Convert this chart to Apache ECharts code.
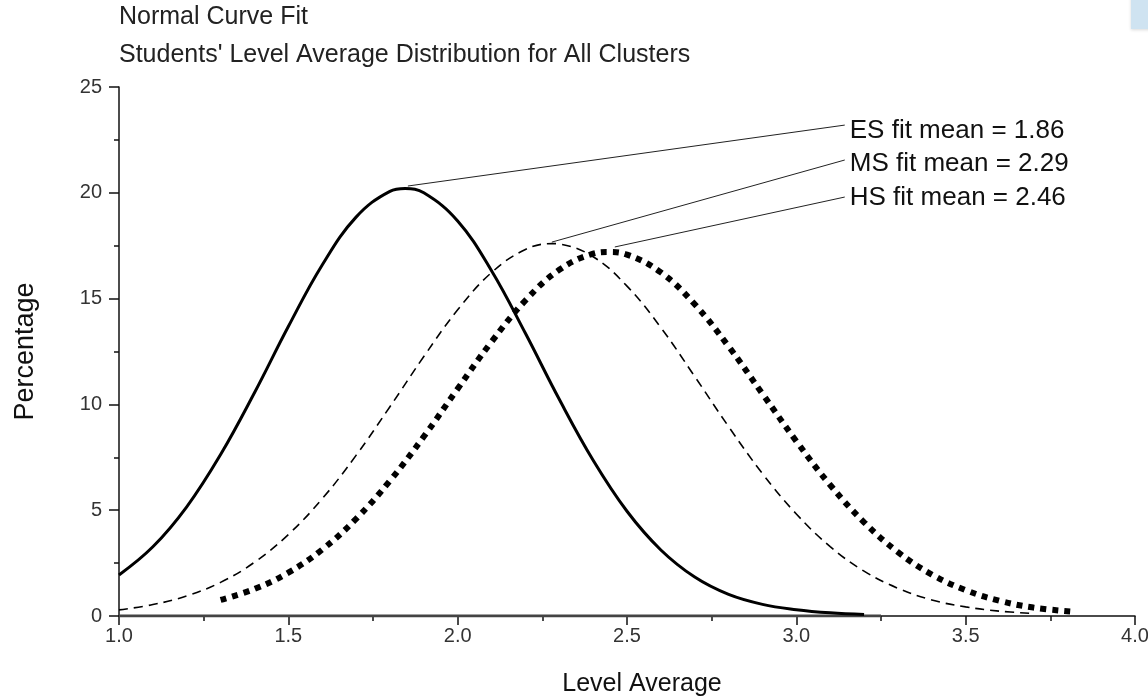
<!DOCTYPE html>
<html>
<head>
<meta charset="utf-8">
<title>Normal Curve Fit</title>
<script src="https://cdn.jsdelivr.net/npm/echarts@6/dist/echarts.min.js"></script>
<style>
  html, body { margin: 0; padding: 0; background: #fff; }
  #chart { width: 1148px; height: 699px; }
</style>
</head>
<body>
<div id="chart"></div>
<script>
// values
const esX = [1.0, 1.1, 1.2, 1.3, 1.4, 1.5, 1.6, 1.7, 1.8, 1.845, 1.9, 2.0, 2.1, 2.2, 2.3, 2.4, 2.5, 2.6, 2.7, 2.8, 2.9, 3.0, 3.1, 3.2]
const esY = [1.94, 3.27, 5.16, 7.63, 10.55, 13.68, 16.59, 18.85, 20.07, 20.2, 20.0, 18.67, 16.32, 13.36, 10.24, 7.36, 4.95, 3.12, 1.84, 1.02, 0.55, 0.3, 0.15, 0.07]

const msX = [1.0, 1.1, 1.2, 1.3, 1.4, 1.5, 1.6, 1.7, 1.8, 1.9, 2.0, 2.1, 2.2, 2.28, 2.3, 2.4, 2.5, 2.6, 2.7, 2.8, 2.9, 3.0, 3.1, 3.2, 3.3, 3.4, 3.5, 3.6, 3.7]
const msY = [0.29, 0.54, 0.95, 1.59, 2.54, 3.85, 5.54, 7.59, 9.89, 12.26, 14.47, 16.23, 17.32, 17.6, 17.58, 16.98, 15.59, 13.63, 11.32, 8.95, 6.73, 4.82, 3.28, 2.12, 1.31, 0.76, 0.43, 0.23, 0.12]

const hsX = [1.3, 1.4, 1.5, 1.6, 1.7, 1.8, 1.9, 2.0, 2.1, 2.2, 2.3, 2.4, 2.445, 2.5, 2.6, 2.7, 2.8, 2.9, 3.0, 3.1, 3.2, 3.3, 3.4, 3.5, 3.6, 3.7, 3.82]
const hsY = [0.76, 1.28, 2.05, 3.14, 4.59, 6.39, 8.48, 10.74, 12.96, 14.91, 16.36, 17.12, 17.2, 17.08, 16.24, 14.73, 12.74, 10.5, 8.26, 6.19, 4.43, 3.02, 1.96, 1.22, 0.72, 0.4, 0.2]

// leader lines: peak -> label
const labelTexts = ['ES fit mean = 1.86', 'MS fit mean = 2.29', 'HS fit mean = 2.46']
const leaderStart = [[1.853, 20.32], [2.278, 17.67], [2.464, 17.44]]
const leaderEnd = [[3.143, 23.2], [3.143, 21.55], [3.143, 19.8]]
const labelOffsetY = [6, 4, 1]

// thick segment on the zero line
const baseX = [1.0, 3.25]

const xTicks = [1.0, 1.5, 2.0, 2.5, 3.0, 3.5, 4.0]
const yTicks = [0, 5, 10, 15, 20, 25]

const FONT = 'Liberation Sans, Arial, sans-serif'
const zip = (xs, ys) => xs.map((x, i) => [x, ys[i]])

const chart = echarts.init(document.getElementById('chart'), null, { renderer: 'canvas' })

const curve = (name, xs, ys, lineStyle) => ({
  name: name,
  type: 'line',
  data: zip(xs, ys),
  smooth: 0.4,
  showSymbol: false,
  silent: true,
  lineStyle: Object.assign({ color: '#000', cap: 'butt' }, lineStyle),
  z: 3
})

// thin leader line with its text at the end
const leaders = labelTexts.map((txt, i) => ({
  type: 'line',
  data: [leaderStart[i], leaderEnd[i]],
  showSymbol: false,
  symbol: 'none',
  silent: true,
  lineStyle: { color: '#222', width: 1 },
  endLabel: {
    show: true,
    distance: 5,
    offset: [0, labelOffsetY[i]],
    formatter: txt,
    fontFamily: FONT,
    fontSize: 26,
    color: '#111'
  },
  z: 2
}))

const titleStyle = { fontFamily: FONT, fontSize: 25, fontWeight: 'normal', color: '#222' }

const option = {
  animation: false,
  backgroundColor: '#fff',
  title: [
    { text: 'Normal Curve Fit', left: 119, top: 5, padding: 0, textStyle: titleStyle },
    { text: 'Students\' Level Average Distribution for All Clusters', left: 119, top: 43, padding: 0, textStyle: titleStyle }
  ],
  grid: { left: 119, right: 13, top: 87, bottom: 83, containLabel: false, outerBoundsMode: 'none' },
  xAxis: {
    type: 'value',
    min: xTicks[0],
    max: xTicks[xTicks.length - 1],
    interval: 0.5,
    name: 'Level Average',
    nameLocation: 'middle',
    nameGap: 56,
    nameTextStyle: { fontFamily: FONT, fontSize: 25, color: '#111', padding: [0, 0, 0, 30] },
    axisLine: { onZero: false, lineStyle: { color: '#111', width: 1.5 } },
    axisTick: { show: true, inside: false, length: 9, lineStyle: { color: '#111', width: 1.5 } },
    minorTick: { show: true, splitNumber: 2, length: 5, lineStyle: { color: '#111', width: 1.5 } },
    axisLabel: {
      margin: 10,
      fontFamily: FONT,
      fontSize: 20,
      color: '#333',
      formatter: v => v.toFixed(1)
    },
    splitLine: { show: false }
  },
  yAxis: {
    type: 'value',
    min: yTicks[0],
    max: yTicks[yTicks.length - 1],
    interval: 5,
    name: 'Percentage',
    nameLocation: 'middle',
    nameRotate: 90,
    nameGap: 80,
    nameTextStyle: { fontFamily: FONT, fontSize: 27, color: '#111' },
    axisLine: { show: true, lineStyle: { color: '#111', width: 1.5 } },
    axisTick: { show: true, inside: false, length: 10, lineStyle: { color: '#111', width: 1.5 } },
    minorTick: { show: true, splitNumber: 2, length: 5, lineStyle: { color: '#111', width: 1.5 } },
    axisLabel: { margin: 17, fontFamily: FONT, fontSize: 20, color: '#333' },
    splitLine: { show: false }
  },
  series: [
    {
      type: 'line',
      data: baseX.map(x => [x, 0]),
      showSymbol: false,
      symbol: 'none',
      silent: true,
      lineStyle: { color: '#444', width: 3 },
      z: 1
    },
    curve('ES', esX, esY, { width: 3 }),
    curve('MS', msX, msY, { width: 1.6, type: [9, 6] }),
    curve('HS', hsX, hsY, { width: 6, type: [6, 6] })
  ].concat(leaders),
  graphic: [
    {
      type: 'rect',
      shape: { x: 1131, y: -4, width: 20, height: 33 },
      style: { fill: '#cfe3f1', shadowColor: 'rgba(0,0,0,0.15)', shadowBlur: 3, shadowOffsetY: 1 }
    }
  ]
}

chart.setOption(option)
</script>
</body>
</html>
